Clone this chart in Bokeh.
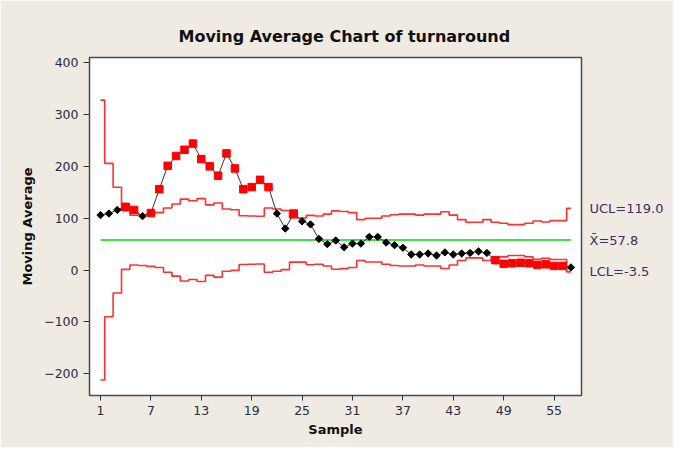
import numpy as np
from bokeh.plotting import figure
from bokeh.models import FixedTicker, LinearAxis, ColumnDataSource
from bokeh.embed import file_html
from bokeh.resources import INLINE

# ---- data ----
samples = list(range(1, 58))
moving_avg = [106, 109, 116, 122, 116, 104, 110, 156, 201, 220,
              232, 244, 214, 200, 182, 225, 196, 156, 160, 174,
              160, 109, 80, 109, 94, 88, 60, 50, 57, 44,
              51, 51, 64, 64, 53, 48, 43, 30, 30, 32,
              28, 34, 30, 32, 33, 36, 33, 19, 12, 13,
              14, 13, 10, 11, 8, 8, 5]
ucl = [327.8, 205.8, 159.8, 114.3, 105.8, 106.8, 108.5, 110.8, 119.8, 127.4,
       136.8, 133.8, 137.8, 125.8, 129.3, 117.8, 116.3, 104.8, 104.3, 103.8,
       119.8, 117.8, 114.8, 100.4, 100.4, 105.5, 104.3, 107.8, 114.1, 112.8,
       110.8, 97.3, 100.0, 100.0, 104.3, 106.8, 107.9, 107.9, 106.0, 107.9,
       107.9, 112.5, 106.0, 97.3, 92.2, 92.2, 97.3, 92.2, 90.2, 87.6,
       87.6, 90.2, 94.7, 92.8, 95.4, 95.4, 119.0]
lcl = [-212.2, -90.2, -44.2, 1.3, 9.8, 8.8, 7.1, 4.8, -4.2, -11.8,
       -21.2, -18.2, -22.2, -10.2, -13.7, -2.2, -0.7, 10.8, 11.3, 11.8,
       -4.2, -2.2, 0.8, 15.2, 15.2, 10.1, 11.3, 7.8, 1.5, 2.8,
       4.8, 18.3, 15.6, 15.6, 11.3, 8.8, 7.7, 7.7, 9.6, 7.7,
       7.7, 3.1, 9.6, 18.3, 23.4, 23.4, 18.3, 23.4, 25.4, 28.0,
       28.0, 25.4, 20.9, 22.8, 20.2, 20.2, -3.5]
center = 57.8
x_ticks = [1, 7, 13, 19, 25, 31, 37, 43, 49, 55]
y_ticks = [-200, -100, 0, 100, 200, 300, 400]
title_text = "Moving Average Chart of turnaround"
x_label = "Sample"
y_label = "Moving Average"
limit_texts = ["UCL=119.0", "X\u0304=57.8", "LCL=-3.5"]
limit_values = [ucl[-1], center, lcl[-1]]

BG = "#EFEBE2"
FONT = "DejaVu Sans"

p = figure(width=673, height=447, x_range=(-0.31, 58.26), y_range=(-242, 410),
           output_backend="svg", toolbar_location=None, title=title_text,
           min_border_left=89, min_border_right=92, min_border_top=57,
           min_border_bottom=52)
p.title.align = "left"
p.title.offset = 89
p.title.standoff = 24
p.title.text_font = FONT
p.title.text_font_size = "16px"
p.title.text_font_style = "bold"
p.title.text_color = "#111111"
p.border_fill_color = BG
p.background_fill_color = "white"
p.outline_line_color = "#4a4a4a"
p.outline_line_width = 1.5
p.xgrid.visible = False
p.ygrid.visible = False

# axes
for ax in (p.xaxis[0], p.yaxis[0]):
    ax.axis_line_color = None
    ax.major_tick_line_color = "#333333"
    ax.minor_tick_line_color = None
    ax.major_tick_in = 0
    ax.major_tick_out = 6
    ax.major_label_text_font = FONT
    ax.major_label_text_font_size = "12.5px"
    ax.major_label_text_color = "#2a2a48"
    ax.axis_label_text_font = FONT
    ax.axis_label_text_font_size = "13px"
    ax.axis_label_text_font_style = "bold"
    ax.axis_label_text_color = "#111111"
p.xaxis.ticker = FixedTicker(ticks=x_ticks)
p.yaxis.ticker = FixedTicker(ticks=y_ticks)
p.xaxis.major_tick_out = 5
p.xaxis.major_label_standoff = 5
p.yaxis.major_label_standoff = 5
p.xaxis.axis_label = x_label
p.yaxis.axis_label = y_label
p.xaxis.axis_label_standoff = 4
p.yaxis.axis_label_standoff = 6

# right-hand limit labels as an unlined axis
lim_axis = LinearAxis(ticker=FixedTicker(ticks=limit_values),
                      major_label_overrides=dict(zip(limit_values, limit_texts)),
                      axis_line_color=None, major_tick_line_color=None,
                      minor_tick_line_color=None, major_tick_in=0, major_tick_out=0,
                      major_label_standoff=8, major_label_text_font=FONT,
                      major_label_text_font_size="13px",
                      major_label_text_color="#3c2e66")
p.add_layout(lim_axis, "right")

# control limits (stepped)
p.step(samples, ucl, mode="center", line_color="#ff3030", line_width=1.6)
p.step(samples, lcl, mode="center", line_color="#ff3030", line_width=1.6)
p.line(samples, [center] * len(samples), line_color="#3ce63c", line_width=2)

# moving averages
p.line(samples, moving_avg, line_color="#333333", line_width=1)
out = [(v > u) or (v < l) for v, u, l in zip(moving_avg, ucl, lcl)]
src_in = ColumnDataSource(dict(x=[s for s, o in zip(samples, out) if not o],
                               y=[v for v, o in zip(moving_avg, out) if not o]))
src_out = ColumnDataSource(dict(x=[s for s, o in zip(samples, out) if o],
                                y=[v for v, o in zip(moving_avg, out) if o]))
p.scatter("x", "y", source=src_in, marker="square", size=5.2, angle=np.pi / 4,
          fill_color="black", line_color="black")
p.scatter("x", "y", source=src_out, marker="square", size=7.5,
          fill_color="#ff0000", line_color="#ff0000")

open("out.html", "w").write(file_html(p, INLINE))
